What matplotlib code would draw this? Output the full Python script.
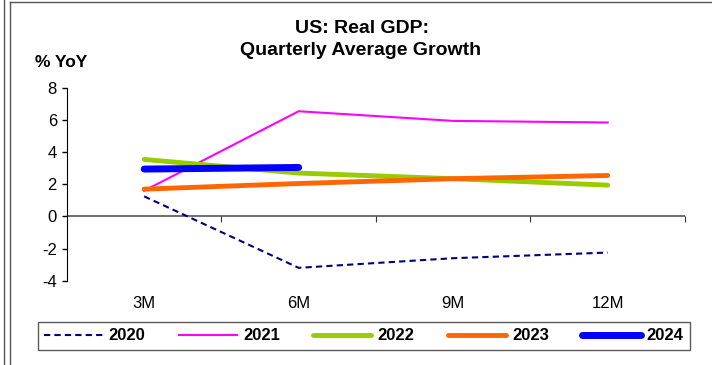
import matplotlib.pyplot as plt
from matplotlib.lines import Line2D

plt.rcParams['font.family'] = ['Liberation Sans', 'DejaVu Sans']
plt.rcParams['axes.unicode_minus'] = False

# data
periods = ['3M', '6M', '9M', '12M']
g2020 = [1.25, -3.2, -2.6, -2.25]
g2021 = [1.6, 6.55, 5.95, 5.85]
g2022 = [3.55, 2.7, 2.35, 1.95]
g2023 = [1.7, 2.05, 2.35, 2.55]
g2024 = [2.95, 3.05]

fig = plt.figure(figsize=(7.12, 3.65), dpi=100)
ax = fig.add_axes([0.094, 0.231, 0.868, 0.528])

x = list(range(len(periods)))
ax.plot(x, g2020, color='#000080', lw=1.5, ls=(0, (3, 2)), label='2020')
ax.plot(x, g2021, color='#ff00ff', lw=1.5, label='2021')
ax.plot(x, g2022, color='#99cc00', lw=3.5, label='2022', solid_capstyle='round')
ax.plot(x, g2023, color='#ff6600', lw=3.5, label='2023', solid_capstyle='round')
ax.plot(x[:len(g2024)], g2024, color='#0000ff', lw=5, label='2024', solid_capstyle='round')

ax.set_xlim(-0.5, 3.5)
ax.set_ylim(-4, 8)
ax.set_yticks(range(-4, 9, 2))
ax.tick_params(axis='y', labelsize=12, length=3.6, pad=3.6, direction='out', width=1)
ax.set_xticks(x)
ax.set_xticklabels(periods, fontsize=12)
ax.tick_params(axis='x', length=0, pad=11)

for s in ['top', 'right', 'bottom']:
    ax.spines[s].set_visible(False)
ax.spines['left'].set_color('#000000')

# category axis crossing at zero
ax.axhline(0, color='#555555', lw=1.2, zorder=0)
sec = ax.secondary_xaxis(1 / 3)
sec.set_xticks([0.5, 1.5, 2.5, 3.5])
sec.set_xticklabels([])
sec.tick_params(length=4, direction='out', color='#333333')
sec.spines['bottom'].set_visible(False)

fig.text(0.508, 0.9096, 'US: Real GDP:', ha='center', va='baseline',
         fontsize=14, fontweight='bold')
fig.text(0.507, 0.849, 'Quarterly Average Growth', ha='center', va='baseline',
         fontsize=14, fontweight='bold')
fig.text(0.049, 0.8164, '% YoY', ha='left', va='baseline', fontsize=12.5, fontweight='bold')

leg = fig.legend(loc='center', bbox_to_anchor=(0.511, 0.0795), ncol=5, frameon=True,
                 fancybox=False, edgecolor='#333333', handlelength=3.5, columnspacing=2.0,
                 handletextpad=0.36, prop={'weight': 'bold', 'size': 12}, borderpad=0.4,
                 borderaxespad=0)
leg.get_frame().set_linewidth(1.0)

# outer border
fig.add_artist(Line2D([0.005, 0.005], [0, 1], color='#555555', lw=1))
fig.add_artist(Line2D([0.014, 0.014], [0, 0.994], color='#555555', lw=1))
fig.add_artist(Line2D([0.014, 1], [0.994, 0.994], color='#555555', lw=1))

fig.savefig('out.png', dpi=100)
